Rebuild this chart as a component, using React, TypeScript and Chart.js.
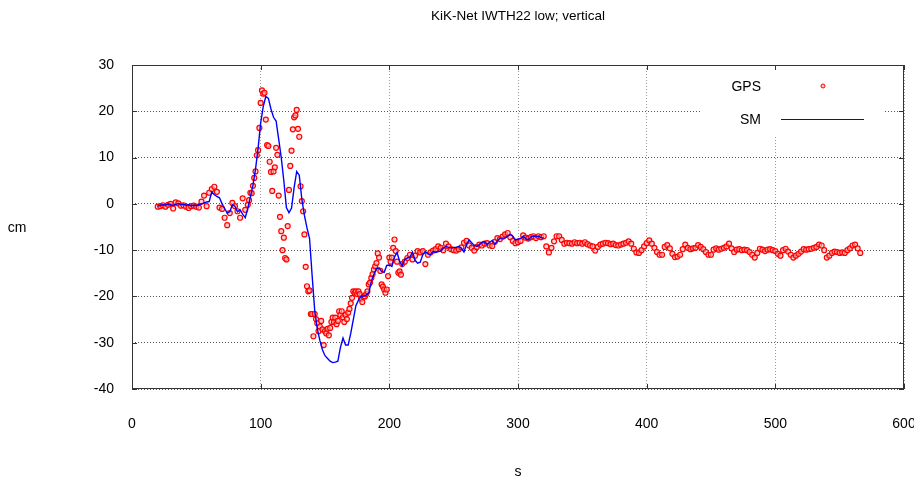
import React, { useEffect, useRef } from "react";
import { Chart, registerables } from "chart.js";
Chart.register(...registerables);

const FONT = "'Liberation Sans Narrow', 'Liberation Sans', Arial, sans-serif";

const titleText = "KiK-Net IWTH22 low; vertical";
const xTitle = "s";
const yTitle = "cm";
const seriesNames = ["GPS", "SM"];

const xMin = 0, xMax = 600, xStep = 100;
const yMin = -40, yMax = 30, yStep = 10;

// GPS segment A: t = 20..88, step 2
const gpsAStart = 20, gpsAStep = 2;
const gpsA = [
  -0.6, -0.5, -0.3, -0.6, -0.2, 0.0, -1.0, 0.3, 0.1, -0.4,
  -0.3, -0.6, -0.9, -0.5, -0.4, -0.6, -0.8, 0.5, 1.8, -0.5,
  2.4, 3.2, 3.7, 2.6, -0.8, -1.1, -3.0, -4.6, -2.0, 0.2,
  -0.5, -1.6, -3.0, 1.2, -1.3,
];

// GPS segment B: t = 90..210, step 1
const gpsBStart = 90, gpsBStep = 1;
const gpsB = [
  -0.2, 0.8, 2.4, 2.3, 3.9, 5.6, 7.0, 10.5, 11.6, 16.4,
  21.8, 24.5, 23.8, 24.0, 18.2, 12.7, 12.5, 9.1, 6.9, 2.8,
  7.0, 7.9, 12.1, 10.6, 1.8, -2.8, -5.9, -10.0, -7.3, -11.7,
  -12.0, -4.8, 3.0, 8.2, 11.5, 16.1, 18.7, 19.1, 20.3, 16.2,
  14.5, 3.8, 0.6, -1.6, -6.6, -13.6, -17.8, -18.9, -18.7, -23.8,
  -23.8, -28.6, -23.8, -24.9, -25.8, -27.5, -26.5, -25.3, -27.1, -30.5,
  -27.5, -28.0, -27.0, -28.4, -26.8, -25.5, -24.6, -25.5, -24.6, -26.0,
  -25.3, -23.2, -24.0, -23.2, -24.5, -25.5, -24.0, -24.9, -23.5, -22.7,
  -21.5, -20.3, -18.9, -19.2, -18.9, -19.5, -18.9, -19.5, -20.5, -21.2,
  -20.0, -20.0, -19.5, -18.9, -17.4, -17.0, -16.0, -15.2, -14.2, -13.5,
  -12.8, -10.7, -11.6, -14.5, -17.4, -17.9, -18.5, -19.2, -18.5, -15.6,
  -11.6, -12.5, -11.6, -9.5, -7.7, -10.2, -12.5, -14.9, -14.6, -15.3,
  -13.0,
];

// GPS segment C: t = 212..566, step 2
const gpsCStart = 212, gpsCStep = 2;
const gpsC = [
  -12.5, -11.7, -11.0, -12.0, -11.2, -10.2, -10.5, -10.2, -13.0, -11.0,
  -10.5, -10.1, -9.8, -9.2, -9.5, -10.0, -8.6, -9.2, -9.8, -10.0,
  -10.1, -9.8, -9.4, -8.4, -8.0, -9.0, -9.5, -10.1, -9.3, -8.8,
  -9.0, -8.6, -8.5, -9.0, -9.1, -8.2, -7.4, -7.6, -7.1, -6.6,
  -6.3, -7.2, -8.0, -8.5, -8.3, -8.0, -6.8, -7.3, -7.5, -7.2,
  -7.0, -7.4, -7.0, -7.2, -7.0, -9.2, -10.5, -9.5, -8.1, -7.0,
  -7.0, -7.8, -8.6, -8.4, -8.5, -8.6, -8.3, -8.5, -8.4, -8.6,
  -8.3, -8.7, -9.0, -9.2, -10.1, -9.3, -8.8, -8.6, -8.4, -8.5,
  -8.7, -8.6, -8.9, -9.0, -8.8, -8.6, -8.4, -8.1, -8.6, -9.7,
  -10.5, -10.6, -10.0, -9.2, -8.5, -7.9, -8.6, -9.5, -10.4, -11.0,
  -11.0, -9.3, -8.9, -9.6, -10.8, -11.5, -11.4, -11.0, -9.8, -8.8,
  -9.5, -9.8, -9.6, -9.5, -8.9, -9.3, -9.8, -10.4, -11.0, -11.0,
  -9.9, -9.6, -9.9, -9.7, -9.5, -9.2, -8.6, -9.6, -10.4, -9.9,
  -9.8, -10.0, -9.9, -10.0, -10.4, -11.0, -11.6, -10.6, -9.7, -9.9,
  -10.2, -9.9, -9.8, -10.0, -10.2, -10.8, -11.2, -10.0, -9.7, -10.3,
  -11.0, -11.6, -11.2, -10.8, -10.3, -9.8, -9.9, -9.8, -9.7, -9.5,
  -9.3, -8.8, -9.0, -10.0, -11.6, -11.2, -10.6, -10.3, -10.4, -10.6,
  -10.5, -10.6, -10.0, -9.6, -9.0, -8.8, -9.6, -10.6,
];

// SM: t = 20..320, step 2
const smStart = 20, smStep = 2;
const smValues = [
  -0.5, -0.3, -0.2, -0.3, 0.0, -0.2, -0.4, -0.1, 0.1, -0.2,
  -0.1, -0.3, -0.2, -0.4, -0.3, -0.4, -0.2, 0.0, 0.2, 0.4,
  0.5, 2.6, 2.0, 1.6, 1.3, 0.0, -1.0, -2.0, -1.7, -0.2,
  -0.5, -1.7, -1.3, -2.2, -3.0, -1.0, 1.5, 4.0, 7.5, 12.0,
  17.5, 21.0, 23.2, 22.8, 20.5, 18.7, 17.9, 14.0, 10.0, 5.0,
  -0.8, -1.9, -0.9, 3.5, 7.0, 6.2, 1.0, -2.5, -5.2, -7.5,
  -15.5, -23.0, -27.0, -29.5, -31.5, -32.8, -33.4, -34.0, -34.3, -34.2,
  -34.0, -31.0, -29.0, -30.5, -30.5, -28.0, -25.0, -22.0, -20.8, -20.0,
  -19.9, -19.7, -19.3, -16.8, -15.2, -14.0, -13.8, -14.6, -14.8, -13.3,
  -13.2, -13.5, -11.5, -10.5, -12.4, -13.4, -12.0, -11.7, -11.5, -10.4,
  -12.2, -12.8, -12.6, -11.0, -10.3, -10.8, -11.0, -10.3, -10.5, -10.3,
  -10.2, -9.6, -9.2, -9.4, -9.5, -9.4, -9.4, -9.2, -9.6, -10.4,
  -8.8, -7.8, -8.4, -9.0, -9.2, -8.8, -8.3, -8.2, -8.8, -8.3,
  -7.9, -8.7, -8.0, -7.4, -7.4, -7.4, -7.0, -6.6, -7.0, -7.8,
  -7.6, -7.5, -7.0, -7.5, -7.8, -7.2, -6.9, -7.1, -7.0, -7.3,
  -7.4,
];

function toPoints(start: number, step: number, vals: number[]) {
  return vals.map((v, i) => ({ x: start + i * step, y: v }));
}

const decorPlugin = {
  id: "decor",
  afterDraw(chart: any) {
    const { ctx, chartArea: a } = chart;
    const xs = chart.scales.x;
    const ys = chart.scales.y;
    ctx.save();
    // legend box (white background hides grid)
    ctx.fillStyle = "#ffffff";
    ctx.fillRect(692, 58, 183, 71);
    ctx.fillStyle = "#000";
    ctx.font = `14px ${FONT}`;
    ctx.textAlign = "right";
    ctx.textBaseline = "middle";
    ctx.fillText(seriesNames[0], 753, 79);
    ctx.fillText(seriesNames[1], 753, 112);
    // GPS marker
    ctx.beginPath();
    ctx.arc(815, 78, 2, 0, Math.PI * 2);
    ctx.fillStyle = "rgba(255,190,190,0.8)";
    ctx.fill();
    ctx.strokeStyle = "#ff0000";
    ctx.lineWidth = 1;
    ctx.stroke();
    // SM line
    ctx.beginPath();
    ctx.moveTo(773, 111.5);
    ctx.lineTo(856, 111.5);
    ctx.strokeStyle = "#0000ff";
    ctx.lineWidth = 1;
    ctx.stroke();

    // frame
    ctx.strokeStyle = "#333";
    ctx.lineWidth = 1;
    ctx.strokeRect(a.left + 0.5, a.top + 0.5, a.right - a.left - 1, a.bottom - a.top - 1);
    // tick marks
    ctx.beginPath();
    for (let v = yMin; v <= yMax; v += yStep) {
      const y = Math.round(ys.getPixelForValue(v)) + 0.5;
      ctx.moveTo(a.left, y); ctx.lineTo(a.left + 5, y);
      ctx.moveTo(a.right, y); ctx.lineTo(a.right - 5, y);
    }
    for (let v = xMin; v <= xMax; v += xStep) {
      const x = Math.round(xs.getPixelForValue(v)) + 0.5;
      ctx.moveTo(x, a.bottom); ctx.lineTo(x, a.bottom - 5);
      ctx.moveTo(x, a.top); ctx.lineTo(x, a.top + 5);
    }
    ctx.stroke();

    // title and axis titles
    ctx.fillStyle = "#000";
    ctx.textAlign = "center";
    ctx.textBaseline = "middle";
    ctx.font = `13.5px ${FONT}`;
    ctx.fillText(titleText, (a.left + a.right) / 2, 8);
    ctx.font = `14px ${FONT}`;
    ctx.fillText(yTitle, 9, 220);
    ctx.fillText(xTitle, (a.left + a.right) / 2, 464);
    ctx.restore();
  },
};

export default function App() {
  const ref = useRef<HTMLCanvasElement>(null);
  useEffect(() => {
    const chart = new Chart(ref.current!, {
      type: "scatter",
      data: {
        datasets: [
          {
            label: seriesNames[1],
            data: toPoints(smStart, smStep, smValues),
            showLine: true,
            borderColor: "#0000ff",
            borderWidth: 1.4,
            pointRadius: 0,
            tension: 0,
            order: 0,
          },
          {
            label: seriesNames[0],
            data: [
              ...toPoints(gpsAStart, gpsAStep, gpsA),
              ...toPoints(gpsBStart, gpsBStep, gpsB),
              ...toPoints(gpsCStart, gpsCStep, gpsC),
            ],
            showLine: false,
            pointRadius: 2.5,
            pointBorderWidth: 1.2,
            pointBorderColor: "#ff0000",
            pointBackgroundColor: "rgba(255,180,180,0.6)",
            order: 1,
          },
        ],
      },
      options: {
        animation: false,
        responsive: false,
        layout: { padding: { top: 57, right: 18, left: 0, bottom: 0 } },
        plugins: { legend: { display: false }, tooltip: { enabled: false }, title: { display: false } },
        scales: {
          x: {
            type: "linear",
            min: xMin,
            max: xMax,
            ticks: { stepSize: xStep, padding: 27, color: "#000", font: { family: FONT, size: 14 } },
            grid: { color: "#9a9a9a", drawTicks: false },
            border: { display: false, dash: [1, 2] },
            afterFit: (s: any) => { s.height = 88; s.paddingRight = 0; s.paddingLeft = 0; },
          },
          y: {
            type: "linear",
            min: yMin,
            max: yMax,
            ticks: { stepSize: yStep, padding: 18, color: "#000", font: { family: FONT, size: 14 } },
            grid: { color: "#555", drawTicks: false },
            border: { display: false, dash: [1, 2] },
            afterFit: (s: any) => { s.width = 124; s.paddingTop = 0; s.paddingBottom = 0; },
          },
        },
      },
      plugins: [decorPlugin],
    });
    return () => chart.destroy();
  }, []);
  return <canvas ref={ref} width={914} height={469} style={{ display: "block" }} />;
}
